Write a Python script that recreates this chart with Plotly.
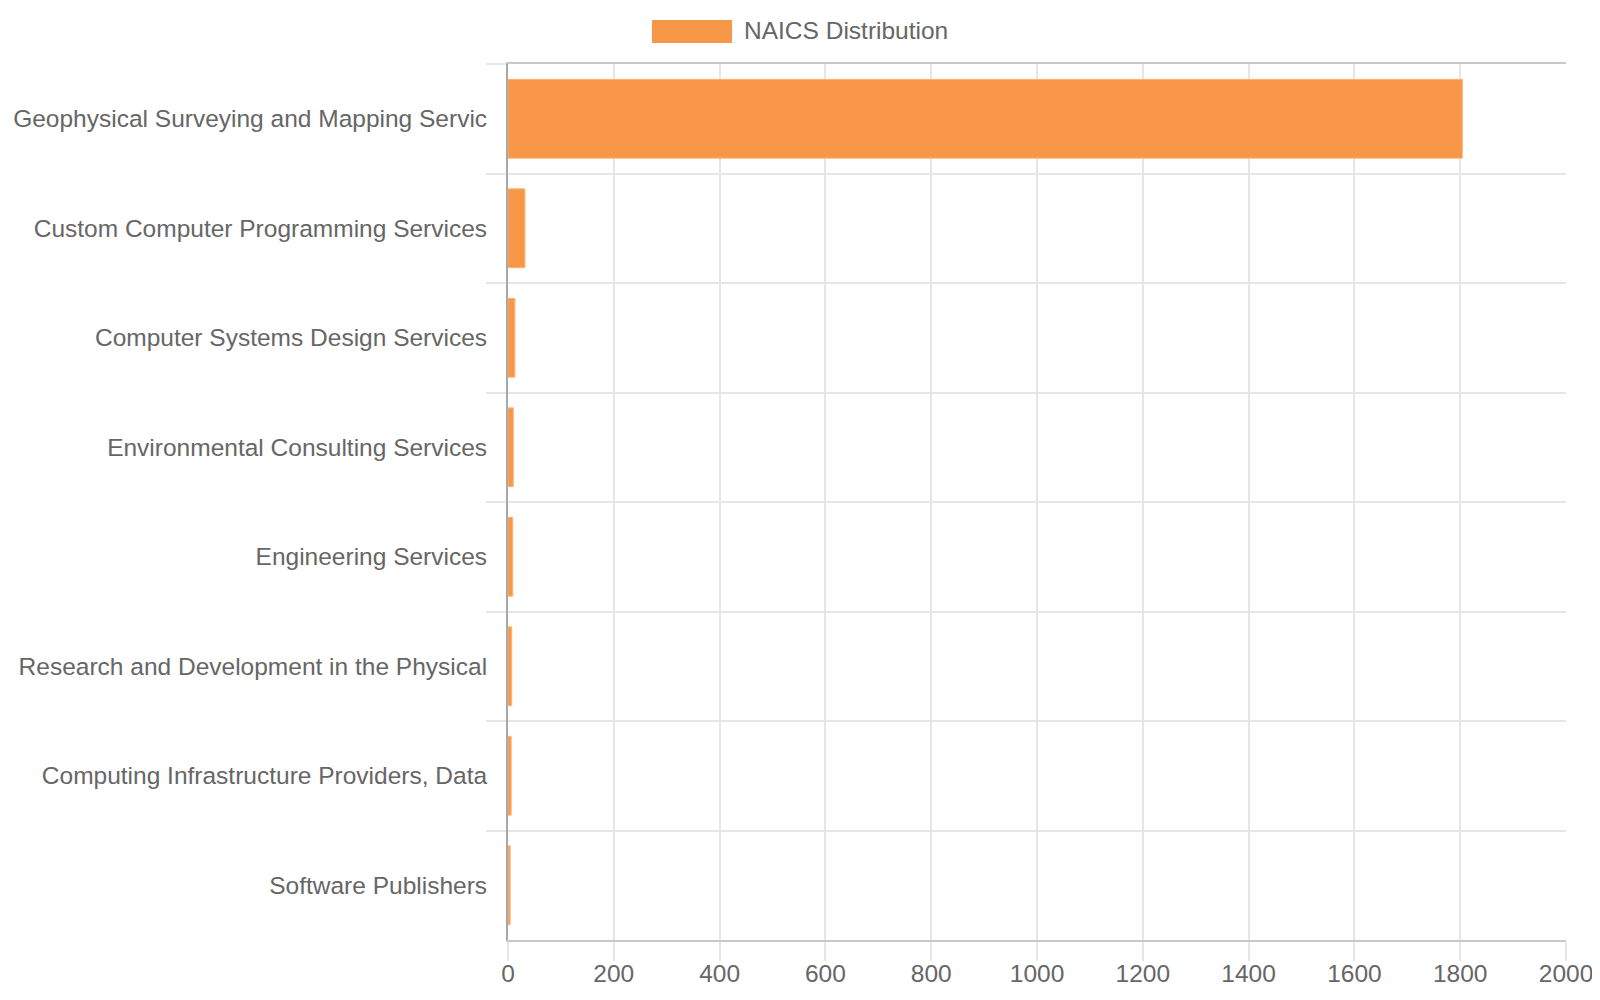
import plotly.graph_objects as go

categories = [
    "Geophysical Surveying and Mapping Servic",
    "Custom Computer Programming Services",
    "Computer Systems Design Services",
    "Environmental Consulting Services",
    "Engineering Services",
    "Research and Development in the Physical",
    "Computing Infrastructure Providers, Data",
    "Software Publishers",
]
values = [1804, 32, 13, 10, 9, 7, 6, 4]
series_name = "NAICS Distribution"
x_ticks = [0, 200, 400, 600, 800, 1000, 1200, 1400, 1600, 1800, 2000]

BAR = "#F79646"
TXT = "#666666"
GRID = "#e6e6e6"
FONT = "Liberation Sans, Arial, sans-serif"
FS = 24.5

W, H = 1600, 1000
ML, MR, MT, MB = 500, 42, 56, 68
PW, PH = W - ML - MR, H - MT - MB

fig = go.Figure()
fig.add_trace(go.Bar(
    y=categories, x=values, orientation="h", name=series_name,
    marker=dict(color=BAR, line=dict(color="#fbb57a", width=1)),
    showlegend=False,
))

def px_x(p):
    return (p - ML) / PW

def px_y(p):
    return (H - MB - p) / PH

# custom legend (wide colour box like the reference)
fig.add_shape(type="rect", xref="paper", yref="paper",
              x0=px_x(644), x1=px_x(724), y0=px_y(35), y1=px_y(12),
              fillcolor=BAR, line=dict(width=0))
fig.add_annotation(xref="paper", yref="paper", x=px_x(734), y=px_y(23),
                   text=series_name, showarrow=False, xanchor="left", yanchor="middle",
                   font=dict(family=FONT, size=FS, color=TXT))

fig.update_layout(
    width=W, height=H,
    margin=dict(l=ML, r=MR, t=MT, b=MB, autoexpand=False),
    plot_bgcolor="white", paper_bgcolor="white",
    bargap=0.28,
    font=dict(family=FONT, size=FS, color=TXT),
    xaxis=dict(
        range=[0, 2000], tickvals=x_ticks, ticktext=[str(v) for v in x_ticks],
        showgrid=True, gridcolor=GRID, gridwidth=1.5,
        showline=True, linecolor="#c8c8c8", linewidth=2, mirror=True,
        ticks="outside", ticklen=19, tickcolor=GRID, tickwidth=1.5,
        ticklabelstandoff=-8, automargin=False,
        zeroline=False, tickfont=dict(size=FS, color=TXT),
    ),
    yaxis=dict(
        type="category", autorange="reversed", tickson="boundaries",
        showgrid=True, gridcolor=GRID, gridwidth=1.5,
        showline=True, linecolor="#a8a8a8", linewidth=2,
        ticks="outside", ticklen=20, tickcolor=GRID, tickwidth=1.5,
        ticklabelstandoff=14, automargin=False,
        tickfont=dict(size=FS, color=TXT),
    ),
)

fig.write_html("out.html")
